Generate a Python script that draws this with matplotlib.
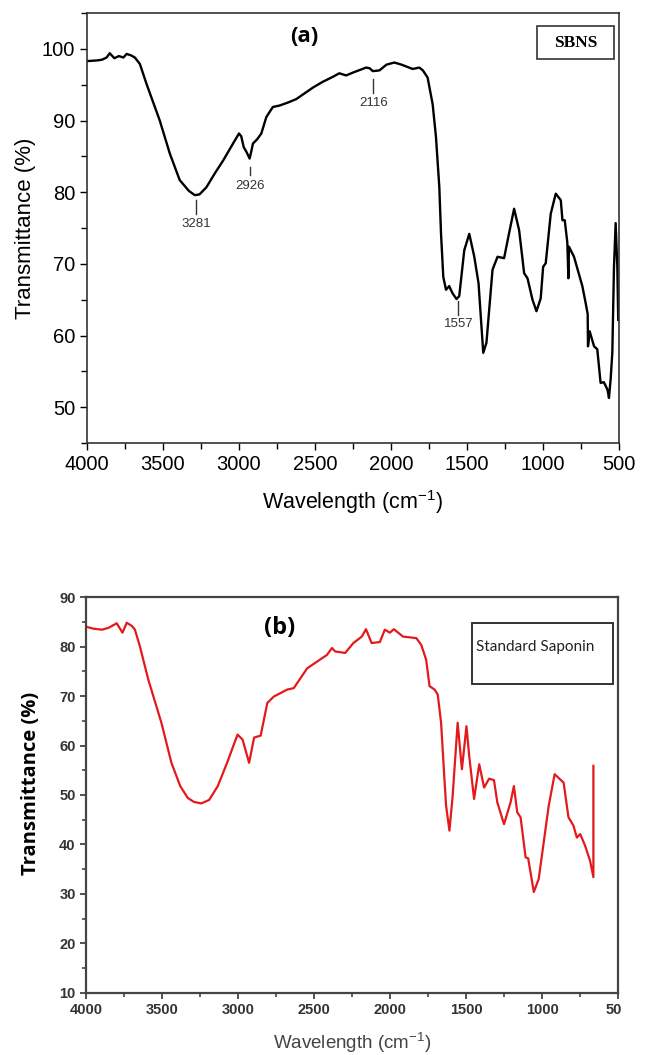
import matplotlib.pyplot as plt
from matplotlib.patches import Rectangle
from matplotlib.ticker import MultipleLocator

# SBNS spectrum (wavenumber cm-1, transmittance %)
sbns_wn = [4000, 3930, 3900, 3871, 3850, 3820, 3790, 3760, 3739, 3710, 3685, 3652,
           3608, 3521, 3455, 3390, 3330, 3291, 3260, 3214, 3160, 3105, 3039, 3000,
           2985, 2969, 2950, 2930, 2920, 2908, 2880, 2853, 2820, 2777, 2733, 2680,
           2623, 2514, 2450, 2383, 2340, 2295, 2250, 2200, 2164, 2140, 2120, 2076,
           2030, 1978, 1930, 1857, 1814, 1790, 1759, 1726, 1704, 1682, 1671, 1656,
           1638, 1617, 1595, 1569, 1551, 1518, 1485, 1452, 1424, 1393, 1372, 1332,
           1299, 1256, 1223, 1190, 1157, 1124, 1102, 1069, 1043, 1015, 999, 982,
           949, 916, 883, 872, 857, 840, 833, 829, 796, 741, 719, 706, 704, 693,
           664, 643, 621, 600, 588, 575, 566, 555, 544, 533, 522, 511, 505]
sbns_t = [98.3, 98.4, 98.5, 98.8, 99.4, 98.7, 99.0, 98.8, 99.3, 99.1, 98.8, 97.9,
          95.1, 90.0, 85.4, 81.7, 80.2, 79.6, 79.7, 80.7, 82.6, 84.4, 86.8, 88.2,
          87.8, 86.3, 85.6, 84.7, 85.6, 86.8, 87.4, 88.2, 90.5, 91.9, 92.1, 92.5,
          93.0, 94.6, 95.4, 96.1, 96.6, 96.3, 96.7, 97.1, 97.4, 97.3, 96.9, 97.0,
          97.8, 98.1, 97.8, 97.2, 97.4, 97.0, 96.0, 92.3, 87.7, 80.7, 74.3, 68.2,
          66.4, 66.9, 65.9, 65.1, 65.5, 71.9, 74.2, 71.0, 67.3, 57.6, 59.0, 69.2,
          71.0, 70.8, 74.3, 77.7, 74.7, 68.7, 68.0, 65.0, 63.4, 65.2, 69.6, 70.1,
          77.0, 79.8, 78.9, 76.1, 76.1, 73.0, 68.0, 72.4, 71.0, 66.9, 64.5, 63.0,
          58.5, 60.6, 58.5, 58.1, 53.4, 53.5, 53.0, 52.4, 51.3, 53.9, 57.6, 69.6,
          75.7, 69.6, 62.2]

# standard saponin spectrum
sap_wn = [4000, 3950, 3895, 3850, 3798, 3760, 3732, 3700, 3678, 3645, 3590, 3504,
          3438, 3380, 3330, 3290, 3242, 3190, 3133, 3068, 3030, 3003, 2970, 2927,
          2894, 2851, 2807, 2764, 2676, 2633, 2545, 2415, 2382, 2361, 2295, 2241,
          2186, 2158, 2121, 2067, 2034, 2001, 1975, 1914, 1827, 1794, 1762, 1740,
          1707, 1686, 1664, 1642, 1631, 1609, 1588, 1555, 1527, 1497, 1479, 1447,
          1413, 1381, 1348, 1316, 1294, 1250, 1207, 1185, 1163, 1141, 1108, 1091,
          1054, 1022, 956, 917, 858, 826, 793, 771, 749, 717, 684, 662, 662]
sap_t = [84.0, 83.6, 83.4, 83.8, 84.7, 82.8, 84.8, 84.2, 83.4, 80.0, 73.3, 64.6,
         56.5, 51.8, 49.4, 48.6, 48.3, 49.0, 51.8, 56.8, 60.0, 62.2, 61.2, 56.5,
         61.6, 62.0, 68.6, 69.9, 71.3, 71.6, 75.6, 78.3, 79.7, 79.0, 78.7, 80.7,
         82.0, 83.5, 80.7, 80.9, 83.4, 82.8, 83.5, 82.0, 81.7, 80.3, 77.3, 72.0,
         71.3, 70.3, 64.6, 53.2, 47.8, 42.8, 49.8, 64.6, 55.2, 63.9, 57.9, 49.2,
         56.2, 51.5, 53.3, 53.0, 48.5, 44.1, 48.5, 51.8, 46.5, 45.5, 37.4, 37.2,
         30.4, 33.0, 47.8, 54.2, 52.5, 45.5, 43.8, 41.4, 42.1, 39.8, 36.7, 33.4, 55.9]

# marked bands: label, line top, line bottom, text y
peak_labels = ['3281', '2926', '2116', '1557']
peak_wn = [3281, 2926, 2116, 1557]
peak_line_top = [78.9, 83.5, 95.8, 64.8]
peak_line_bot = [77.0, 82.4, 93.9, 62.9]
peak_text_y = [75.6, 80.9, 92.4, 61.6]

xticks = [4000, 3500, 3000, 2500, 2000, 1500, 1000, 500]
xlab = 'Wavelength (cm$^{\\mathregular{-1}}$)'

fig = plt.figure(figsize=(6.5, 10.55), dpi=100)

# ---- (a) SBNS ----
ax1 = fig.add_axes([0.1338, 0.580, 0.8185, 0.4076])
ax1.plot(sbns_wn, sbns_t, color='black', lw=1.7)
ax1.set_xlim(4000, 500)
ax1.set_ylim(45, 105)
ax1.set_xticks(xticks)
ax1.xaxis.set_minor_locator(MultipleLocator(250))
ax1.set_yticks([50, 60, 70, 80, 90, 100])
ax1.yaxis.set_minor_locator(MultipleLocator(5))
ax1.tick_params(which='major', length=5, width=1, labelsize=14.5, direction='out')
ax1.tick_params(which='minor', length=4, width=1, direction='out')
for lab in ax1.get_xticklabels() + ax1.get_yticklabels():
    lab.set_fontfamily('Liberation Sans')
for sp in ax1.spines.values():
    sp.set_color('#333333')
    sp.set_linewidth(1.2)
ax1.set_xlabel(xlab, fontsize=15.5, family='Liberation Sans', labelpad=10)
ax1.set_ylabel('Transmittance (%)', fontsize=16, family='Liberation Sans', labelpad=4)

for lab, wn, y0, y1, ty in zip(peak_labels, peak_wn, peak_line_top, peak_line_bot, peak_text_y):
    ax1.plot([wn, wn], [y0, y1], color='#333333', lw=1)
    ax1.text(wn, ty, lab, ha='center', va='center', fontsize=9.5, color='#333333',
             family='Liberation Sans')

ax1.text(0.409, 0.945, '(a)', transform=ax1.transAxes, ha='center', va='center',
         fontsize=16, fontweight='bold', family='Open Sans')
ax1.add_patch(Rectangle((0.846, 0.893), 0.144, 0.077, transform=ax1.transAxes,
                        fill=False, ec='#333333', lw=1.2))
ax1.text(0.918, 0.931, 'SBNS', transform=ax1.transAxes, ha='center', va='center',
         fontsize=12.5, fontweight='bold', family='Liberation Serif')

# ---- (b) standard saponin ----
ax2 = fig.add_axes([0.1323, 0.0588, 0.8185, 0.3753])
ax2.plot(sap_wn, sap_t, color='#e3191c', lw=1.6)
ax2.set_xlim(4000, 500)
ax2.set_ylim(10, 90)
ax2.set_xticks(xticks)
ax2.xaxis.set_minor_locator(MultipleLocator(250))
ax2.set_yticks(range(10, 91, 10))
ax2.yaxis.set_minor_locator(MultipleLocator(5))
ax2.tick_params(which='major', length=4, width=1.2, labelsize=10.5, direction='out',
                colors='#333333')
ax2.tick_params(which='minor', length=3, width=1.2, direction='out', colors='#444444')
for lab in ax2.get_xticklabels() + ax2.get_yticklabels():
    lab.set_fontfamily('Liberation Sans')
    lab.set_fontweight('bold')
for sp in ax2.spines.values():
    sp.set_color('#444444')
    sp.set_linewidth(1.6)
ax2.set_xlabel(xlab, fontsize=13.5, color='#444444', family='Liberation Sans', labelpad=9)
ax2.set_ylabel('Transmittance (%)', fontsize=14.5, fontweight='bold', family='Open Sans')
ax2.yaxis.set_label_coords(-0.085, 0.53)

ax2.text(0.364, 0.921, '(b)', transform=ax2.transAxes, ha='center', va='center',
         fontsize=17, fontweight='bold', family='Open Sans')
ax2.add_patch(Rectangle((0.726, 0.781), 0.265, 0.154, transform=ax2.transAxes,
                        fill=False, ec='#333333', lw=1.4))
ax2.text(0.845, 0.875, 'Standard Saponin', transform=ax2.transAxes, ha='center',
         va='center', fontsize=11, color='#222222', family='Lato')

# the lower panel ends right at its frame, cutting the last tick label
fig.patches.append(Rectangle((0.955, 0.0), 0.045, 0.057, transform=fig.transFigure,
                             fc='white', ec='none', zorder=10))

fig.savefig('out.png', dpi=100)
